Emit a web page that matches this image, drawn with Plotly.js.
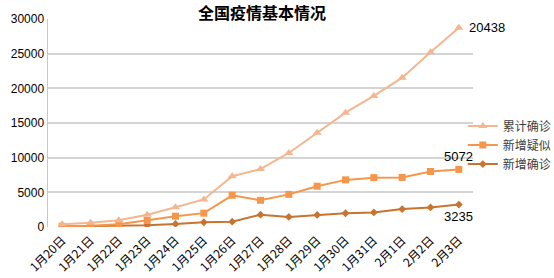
<!DOCTYPE html>
<html>
<head>
<meta charset="utf-8">
<script src="https://cdn.plot.ly/plotly-3.0.1.min.js"></script>
<style>html,body{margin:0;padding:0;background:#fff}#chart{width:554px;height:278px}</style>
</head>
<body>
<div id="chart"></div>
<script>
var categories = ['1月20日','1月21日','1月22日','1月23日','1月24日','1月25日','1月26日','1月27日','1月28日','1月29日','1月30日','1月31日','2月1日','2月2日','2月3日'];
var newConfirmed = [77,149,131,259,444,688,769,1771,1459,1737,1982,2102,2590,2829,3235];
var newSuspected = [27,26,257,680,1118,1309,3806,2077,3248,4148,4812,5019,4562,5173,5072];
var cumConfirmed = [291,440,571,830,1287,1975,2744,4515,5974,7711,9692,11791,14380,17205,20438];
var yTicks = [0,5000,10000,15000,20000,25000,30000];

var cjk = '"Noto Sans CJK SC", "Noto Sans", sans-serif';
var num = '"Liberation Sans", Arial, sans-serif';

function tr(name, y, color, symbol, size) {
  return {
    x: categories, y: y, name: name, type: 'scatter', mode: 'lines+markers',
    stackgroup: 'one', fill: 'none',
    line: {color: color, width: 2},
    marker: {color: color, symbol: symbol, size: size},
    hoverinfo: 'skip'
  };
}
var traces = [
  tr('新增确诊', newConfirmed, '#C8732F', 'diamond', 6),
  tr('新增疑似', newSuspected, '#F5964A', 'square', 7),
  tr('累计确诊', cumConfirmed, '#F4B690', 'triangle-up', 8)
];

var last = categories.length - 1;
var s1 = newConfirmed[last];
var s2 = s1 + newSuspected[last];
var s3 = s2 + cumConfirmed[last];
var annFont = {family: num, size: 13, color: '#000'};

var layout = {
  width: 554, height: 278,
  margin: {l: 48, r: 81, t: 19, b: 51, autoexpand: false},
  paper_bgcolor: '#fff', plot_bgcolor: '#fff',
  showlegend: true,
  hovermode: false,
  title: {text: '全国疫情基本情况', font: {family: cjk, size: 16, color: '#000', weight: 'bold'},
          x: 0.473, xanchor: 'center', xref: 'container', y: 0.952, yanchor: 'middle', yref: 'container'},
  xaxis: {
    type: 'category', tickangle: -45, showgrid: false, showline: false, zeroline: false,
    ticks: '', ticklabelstandoff: 3, tickfont: {family: cjk, size: 12, color: '#000'},
    range: [-0.5, categories.length - 0.5], automargin: false
  },
  yaxis: {
    range: [0, 30000], tickvals: yTicks, ticktext: yTicks.map(String),
    showgrid: true, gridcolor: '#D4D4D4', gridwidth: 2,
    showline: true, linecolor: '#C8C8C8', linewidth: 1.5, zeroline: false,
    ticks: '', tickfont: {family: num, size: 12, color: '#000'}, automargin: false
  },
  legend: {
    x: 0.976, xanchor: 'left', y: 0.394, yanchor: 'middle',
    traceorder: 'reversed', font: {family: cjk, size: 12, color: '#404040'},
    itemwidth: 30, tracegroupgap: 0, bgcolor: 'rgba(0,0,0,0)'
  },
  annotations: [
    {x: categories[last], y: s3, xref: 'x', yref: 'y', text: String(cumConfirmed[last]), showarrow: false,
     xanchor: 'left', yanchor: 'middle', xshift: 8, font: annFont},
    {x: categories[last], y: s2, xref: 'x', yref: 'y', text: String(newSuspected[last]), showarrow: false,
     xanchor: 'center', yanchor: 'bottom', yshift: 3, font: annFont},
    {x: categories[last], y: s1, xref: 'x', yref: 'y', text: String(newConfirmed[last]), showarrow: false,
     xanchor: 'center', yanchor: 'top', yshift: -2, font: annFont}
  ]
};

Plotly.newPlot('chart', traces, layout, {staticPlot: true, displayModeBar: false});
</script>
</body>
</html>
